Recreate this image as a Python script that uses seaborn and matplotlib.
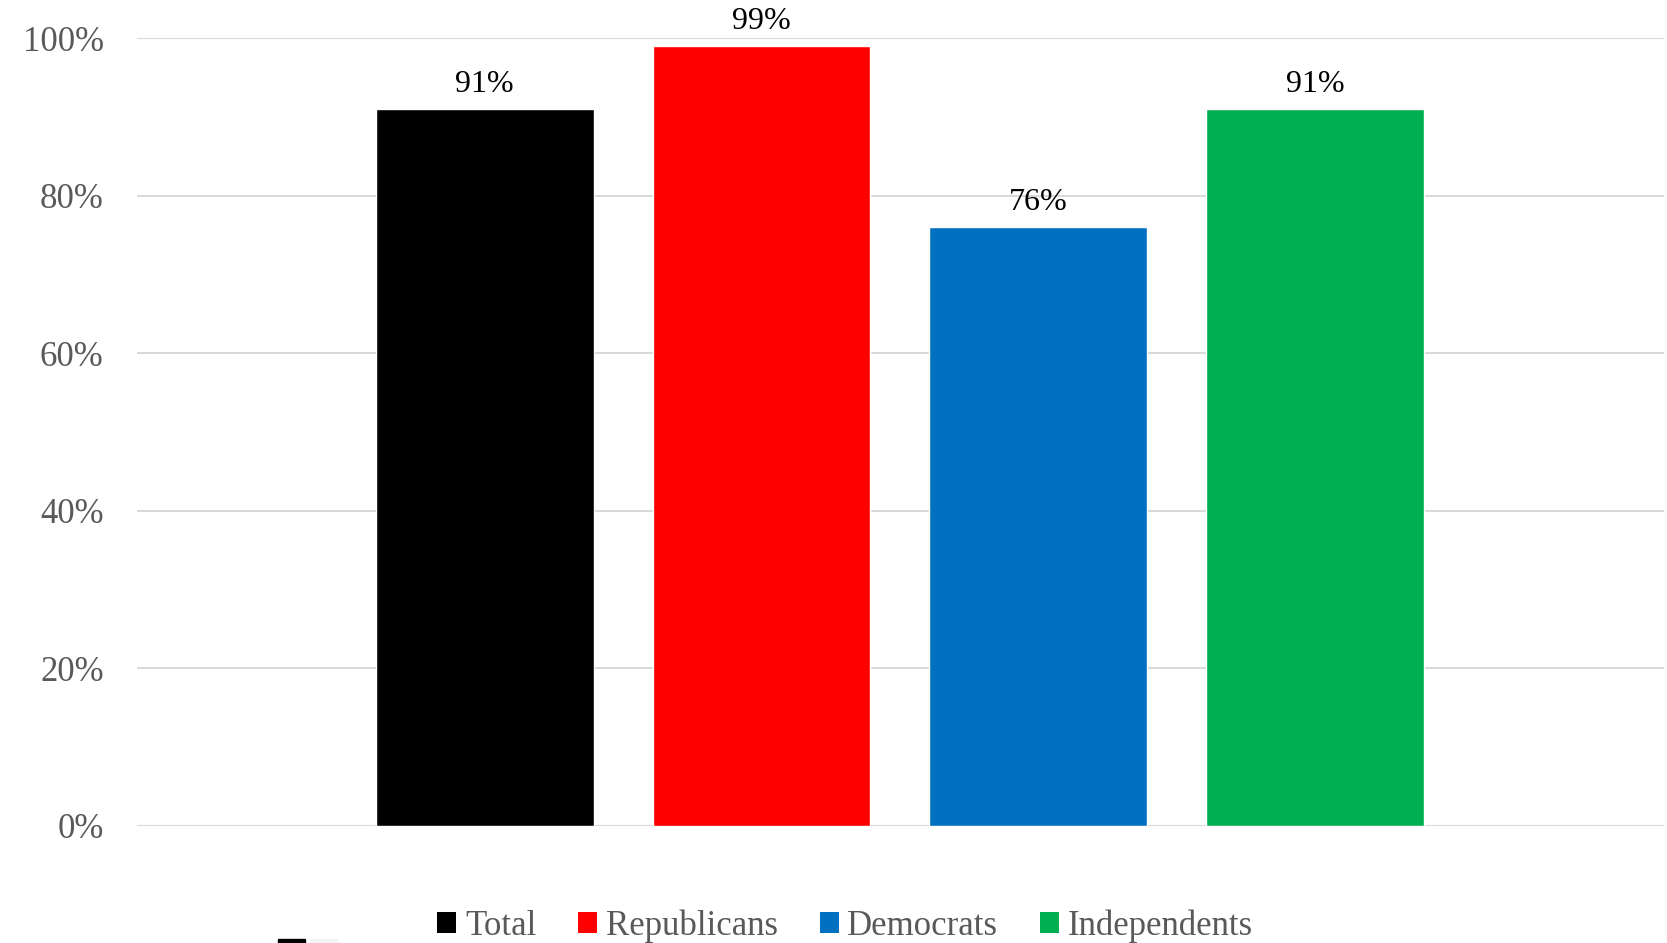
""" Bar chart of share by party group, recreated with seaborn
"""
import matplotlib
matplotlib.use('Agg')
import matplotlib.pyplot as plt
import matplotlib.ticker as ticker
from matplotlib.patches import Patch, Rectangle
import pandas as pd
import seaborn as sns

groups = ['Total', 'Republicans', 'Democrats', 'Independents']
shares = [0.91, 0.99, 0.76, 0.91]
colors = ['#000000', '#FF0000', '#0070C0', '#00B050']
yticks = [0, 0.2, 0.4, 0.6, 0.8, 1.0]

df = pd.DataFrame({'group': groups, 'share': shares})

sns.set_style('white')
plt.rcParams['font.family'] = ['Liberation Serif', 'DejaVu Serif']

fig = plt.figure(figsize=(16.67, 9.43), dpi=100)
ax = fig.add_axes([0.0822, 0.1241, 0.9158, 0.8356])

sns.barplot(data=df, x='group', y='share', hue='group', palette=colors,
            width=0.787, saturation=1, legend=False, ax=ax)

for cont, v in zip(ax.containers, shares):
    ax.bar_label(cont, labels=[f'{v:.0%}'], padding=7, fontsize=23, color='#000000')

ax.set_ylim(0, 1)
ax.set_xlim(-1.256, 4.26)
ax.set_yticks(yticks)
ax.yaxis.set_major_formatter(ticker.PercentFormatter(1.0, decimals=0))
ax.tick_params(axis='y', labelsize=25, labelcolor='#595959', length=0, pad=24)
ax.set_xticks([])
ax.set_xlabel('')
ax.set_ylabel('')
ax.grid(axis='y', color='#D9D9D9', linewidth=1.5)
ax.set_axisbelow(True)
sns.despine(ax=ax, left=True, bottom=True, top=True, right=True)

handles = [Patch(facecolor=c, edgecolor='none') for c in colors]
fig.legend(handles, groups, loc='center', bbox_to_anchor=(0.507, 0.018), ncol=4,
           frameon=False, fontsize=25, labelcolor='#595959', handlelength=0.55,
           handleheight=0.55, handletextpad=0.25, columnspacing=1.2)

# small stray marks at the bottom edge
fig.patches.append(Rectangle((0.1668, 0.0), 0.0162, 0.004, transform=fig.transFigure, color='#000000'))
fig.patches.append(Rectangle((0.1860, 0.0), 0.0162, 0.004, transform=fig.transFigure, color='#F2F2F2'))

fig.savefig('out.png', dpi=100)
plt.close(fig)
